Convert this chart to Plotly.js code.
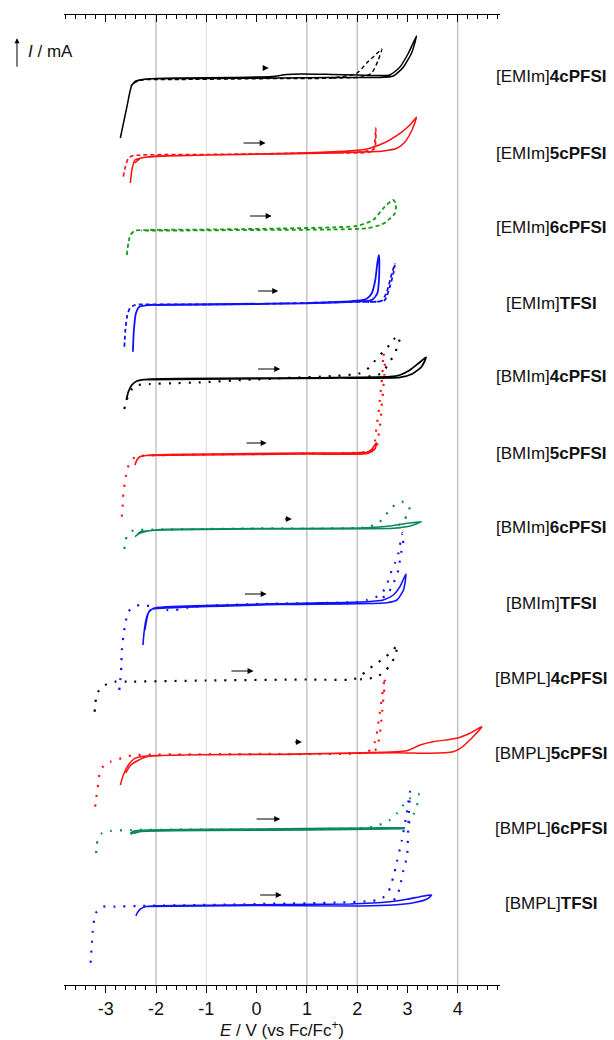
<!DOCTYPE html>
<html>
<head>
<meta charset="utf-8">
<script src="https://cdn.plot.ly/plotly-3.0.1.min.js"></script>
<style>html,body{margin:0;padding:0;background:#fff;}#chart{width:614px;height:1040px;}</style>
</head>
<body>
<div id="chart"></div>
<script>
// ---- data: potential E (V vs Fc/Fc+) and relative current (arbitrary units) ----
const sampleLabels = ["[EMIm]<b>4cPFSI</b>","[EMIm]<b>5cPFSI</b>","[EMIm]<b>6cPFSI</b>","[EMIm]<b>TFSI</b>",
  "[BMIm]<b>4cPFSI</b>","[BMIm]<b>5cPFSI</b>","[BMIm]<b>6cPFSI</b>","[BMIm]<b>TFSI</b>",
  "[BMPL]<b>4cPFSI</b>","[BMPL]<b>5cPFSI</b>","[BMPL]<b>6cPFSI</b>","[BMPL]<b>TFSI</b>"];
const stackOffsets = [907, 830, 756, 680, 607, 530, 456, 380, 305, 230, 155, 80];
const gridE = [-2, -1, 1, 2, 4];
const tickValues = [-3, -2, -1, 0, 1, 2, 3, 4];

const emim4Solid = [[-2.71,-60],[-2.58,-29],[-2.48,-7],[-2.38,-3],[-2.18,-1],[-1.5,0],[-0.5,0.5],[0.3,1.5],[0.6,3.5],[0.9,4],[1.5,3.5],[2.0,3],[2.5,2.5],[2.65,3],[2.85,11],[3.02,25],[3.18,42],[3.09,26],[2.92,11],[2.72,2],[2.4,0.5],[1.5,0.5],[0.5,0],[-1,-0.5],[-2.2,-1],[-2.4,-3],[-2.5,-8]];
const emim4Dash = [[-2.45,-5],[-2.3,-2],[-1.5,-1.5],[-0.5,-1],[0.5,-0.5],[1.5,0],[1.99,4.7],[2.19,15],[2.36,23],[2.49,29],[2.42,18],[2.29,5],[2.1,1],[1.5,0]];
const emim5Solid = [[-2.51,-28],[-2.48,-15],[-2.42,-5],[-2.25,-2.5],[-2.0,-1],[-1,0],[0,1],[1,2.3],[1.8,4],[2.2,6],[2.52,11.7],[2.85,21.7],[3.05,30],[3.18,37.7],[3.09,25],[2.95,13],[2.79,6.7],[2.52,4],[1.53,2],[0.5,1],[-1,0],[-2.0,-1.5],[-2.3,-3],[-2.42,-8]];
const emim5Dash = [[-2.65,-21.7],[-2.61,-11.7],[-2.55,-3.3],[-2.48,-1],[-2.32,0],[-1,0.5],[0.5,1.5],[1.5,2.5],[2.30,4],[2.37,27],[2.34,6],[2.0,3]];
const emim6Dash = [[-2.58,-26],[-2.55,-14],[-2.51,-6],[-2.42,-1.7],[-2.12,-1],[-1,-0.5],[0.5,0.5],[1.53,1.7],[1.99,3],[2.32,9],[2.52,20.7],[2.71,29],[2.77,25.7],[2.75,15.7],[2.62,9],[2.59,7.3],[2.46,4],[2.19,0.7],[1.5,-0.5],[0,-1],[-1.5,-1.5],[-2.3,-1.5]];
const emimTSolid = [[-2.46,-46.7],[-2.44,-25],[-2.40,-8.3],[-2.33,-1.7],[-2.12,0],[0.86,1.7],[1.99,4.3],[2.19,6.3],[2.29,11.7],[2.36,25],[2.40,41.7],[2.43,50],[2.44,35],[2.40,11.7],[2.29,5],[1.5,2.5],[0,1],[-2.0,0]];
const emimTDash = [[-2.63,-41.7],[-2.61,-25],[-2.57,-10],[-2.52,-3.3],[-2.42,0],[-2.35,0.5],[-1,0.5],[0.5,1.5],[1.8,3],[2.39,3.3],[2.55,5],[2.65,18.3],[2.72,31.7],[2.75,41],[2.69,31.7],[2.59,13.3],[2.49,4.3],[2.2,3]];
const bmim4Solid = [[-2.59,-22],[-2.55,-13.7],[-2.48,-7],[-2.38,-3],[-2.18,-1.3],[0.86,0],[2.65,1.3],[2.85,3],[3.05,8],[3.22,14.7],[3.37,20.7],[3.28,11.3],[3.09,4],[2.85,0.7],[1.5,0],[-2.2,-1.5]];
const bmim4Dot = [[-2.63,-31],[-2.59,-22],[-2.55,-18.7],[-2.45,-8.7],[-2.28,-6.3],[-2.12,-6],[-1.69,-5.3],[-1.12,-4.3],[-0.26,-2],[0.6,0],[1.53,2],[2.06,4.7],[2.26,11.3],[2.39,19.7],[2.52,26.3],[2.64,33],[2.75,39.7],[2.85,41.3],[2.79,29.7],[2.71,21.3],[2.60,12.3],[2.46,4],[2.19,1.3]];
const bmim5Solid = [[-2.42,-10],[-2.38,-5],[-2.32,-1.7],[-2.12,0],[1.99,2.3],[2.19,2.7],[2.29,5.7],[2.38,12.3],[2.36,6.7],[2.22,1.7],[1.0,1],[-2.2,-0.5]];
const bmim5Dot = [[-2.68,-61.7],[-2.66,-48.3],[-2.65,-38.3],[-2.61,-25],[-2.58,-15],[-2.51,-6.7],[-2.42,-2.3],[-2.25,-0.7],[-1,0.5],[1,1.5],[2.32,5],[2.36,18],[2.39,30],[2.42,40],[2.44,50],[2.46,60],[2.48,70],[2.50,80],[2.51,90],[2.52,102],[2.55,92],[2.54,80],[2.52,68],[2.50,55],[2.48,45],[2.47,35],[2.44,25],[2.41,14],[2.37,5],[2.2,3]];
const bmim6Solid = [[-2.42,-7.7],[-2.32,-4.3],[-2.12,-1.7],[-1.79,-0.3],[2.19,1.3],[2.65,3],[2.99,5.7],[3.28,7.3],[3.05,3],[2.72,0.7],[0,0],[-2.3,-2.5],[-2.38,-6]];
const bmim6Dot = [[-2.63,-20],[-2.61,-12.7],[-2.57,-6],[-2.48,-2],[-2.32,-1],[0,0.5],[2.19,1.7],[2.42,5.7],[2.55,13],[2.69,21.7],[2.89,27.3],[3.04,21.7],[2.99,14],[2.92,7.3],[2.79,3]];
const bmimTSolid = [[-2.26,-40],[-2.24,-28.3],[-2.20,-15],[-2.15,-7.7],[-2.05,-3.3],[-1.79,-1.7],[0.86,1.7],[2.19,3.3],[2.52,5],[2.72,10],[2.85,18.3],[2.97,31],[2.92,15],[2.79,5],[2.59,2.3],[0.5,0.5],[-1.8,-3],[-2.12,-5],[-2.22,-25]];
const bmimTDot = [[-2.73,-85],[-2.71,-75],[-2.69,-61.7],[-2.68,-45],[-2.65,-31.7],[-2.61,-18.3],[-2.55,-6.7],[-2.45,-1.7],[-2.32,0],[-2.12,-1],[-1.79,-5],[-1.62,-5],[-1.26,-1.7],[0,1],[1.99,3],[2.19,5],[2.46,10],[2.59,20],[2.65,30],[2.75,41.7],[2.82,51.7],[2.85,60],[2.89,70],[2.90,72],[2.92,65],[2.89,56.7],[2.85,45],[2.82,35],[2.72,21.7],[2.59,10],[2.39,5]];
const bmpl4Dot = [[-3.22,-31.7],[-3.21,-23.3],[-3.19,-18.3],[-3.15,-11.7],[-3.01,-5],[-2.81,-1.7],[-2.58,-1.7],[-1,-0.5],[1,0.5],[1.92,0.7],[2.09,5],[2.22,10.7],[2.39,16.7],[2.55,22.7],[2.69,28.3],[2.80,35],[2.75,23.3],[2.65,15],[2.55,8.3],[2.36,2.7],[2.06,0.7]];
const bmpl5Solid = [[-2.71,-30],[-2.65,-20],[-2.55,-10],[-2.42,-3.3],[-2.18,-1],[0.73,1],[2.06,2.3],[2.99,4.3],[3.25,10],[3.51,13.3],[3.98,16.7],[4.24,21.7],[4.48,28.3],[4.24,15],[4.05,6.7],[3.91,3.3],[3.45,1.7],[2.79,2.3],[0.5,0.5],[-2.2,-2],[-2.5,-10],[-2.6,-18]];
const bmpl5Dot = [[-3.21,-51.7],[-3.19,-43.3],[-3.16,-33.3],[-3.15,-26.7],[-3.11,-16.7],[-3.01,-8.3],[-2.91,-6.7],[-2.78,-5],[-2.61,-1.7],[-2.38,0],[0,1],[2.20,3],[2.30,8],[2.36,14],[2.40,24],[2.43,35],[2.46,46],[2.49,57],[2.52,68],[2.55,78],[2.54,66],[2.52,56],[2.50,45],[2.48,35],[2.46,25],[2.43,15],[2.39,7],[2.33,3]];
const bmpl6Solid = [[-2.51,-4],[-2.45,-1.7],[-2.32,-0.7],[0,0.5],[2.95,1.7],[1.0,0.5],[-2.3,-1],[-2.45,-3]];
const bmpl6Dot = [[-3.19,-23.3],[-3.18,-15],[-3.15,-8.3],[-3.08,-3.3],[-2.91,-1],[-2.5,0],[0,0.5],[2.06,1.7],[2.32,3.3],[2.52,6.7],[2.65,10],[2.79,16.7],[2.92,25],[3.05,31.7],[3.22,36],[3.2,26.7],[3.13,16.7],[3.05,8.3],[2.95,2.7]];
const bmplTSolid = [[-2.40,-11],[-2.37,-7.7],[-2.32,-4.3],[-2.22,-1.7],[-1.98,-0.7],[1.86,1],[2.65,3.3],[2.99,5.7],[3.25,8.3],[3.48,10],[3.38,5.7],[3.12,2.3],[2.72,0],[2.06,-1],[0,-0.5],[-2.2,-1.5]];
const bmplTDot = [[-3.30,-57.7],[-3.28,-41.7],[-3.26,-26.7],[-3.23,-15],[-3.18,-6.7],[-3.05,-1.7],[-2.81,-1.7],[-2.38,-1],[0,1],[2.46,5.7],[2.62,13.3],[2.72,28.3],[2.79,43.3],[2.89,65],[2.99,93.3],[3.05,113.3],[3.02,85],[2.99,48.3],[2.92,35],[2.85,18.3],[2.79,8.3],[2.65,1.7]];

// scan-direction arrows: [E tail, E head, current]
const scanArrows = [[0.10,0.24,10],[-0.29,0.18,12],[-0.16,0.30,13],[0.00,0.43,14],[0.00,0.47,9],[-0.23,0.20,12],
  [0.53,0.70,10],[-0.26,0.20,11],[-0.53,-0.06,9],[0.73,0.90,13],[-0.03,0.47,11],[0.04,0.50,10]];

// ---- styling ----
const BLACK = '#000000', RED = '#ff1010', GREEN = '#1a9a1a', TEAL = '#0a8a5c', BLUE = '#1010ff';
const DOT = '2px,8px', DASH = '4px,3px';
const curves = [
  [emim4Solid, 0, BLACK, 'solid', 1.5], [emim4Dash, 0, BLACK, DASH, 1.4],
  [emim5Solid, 1, RED, 'solid', 1.5], [emim5Dash, 1, RED, DASH, 1.6],
  [emim6Dash, 2, GREEN, DASH, 1.8],
  [emimTSolid, 3, BLUE, 'solid', 1.8], [emimTDash, 3, BLUE, DASH, 1.8],
  [bmim4Solid, 4, BLACK, 'solid', 1.8], [bmim4Dot, 4, BLACK, DOT, 2.2],
  [bmim5Solid, 5, RED, 'solid', 1.6], [bmim5Dot, 5, RED, DOT, 2.2],
  [bmim6Solid, 6, TEAL, 'solid', 1.5], [bmim6Dot, 6, TEAL, DOT, 2.2],
  [bmimTSolid, 7, BLUE, 'solid', 1.6], [bmimTDot, 7, BLUE, DOT, 2.2],
  [bmpl4Dot, 8, BLACK, DOT, 2.2],
  [bmpl5Solid, 9, RED, 'solid', 1.5], [bmpl5Dot, 9, RED, DOT, 2.2],
  [bmpl6Solid, 10, TEAL, 'solid', 2.6], [bmpl6Dot, 10, TEAL, DOT, 2.2],
  [bmplTSolid, 11, BLUE, 'solid', 1.6], [bmplTDot, 11, BLUE, DOT, 2.2]
];

const traces = curves.map(([pts, idx, color, dash, w]) => ({
  type: 'scatter', mode: 'lines',
  x: pts.map(p => p[0]),
  y: pts.map(p => p[1] + stackOffsets[idx]),
  line: {color: color, width: w, dash: dash, shape: 'spline', smoothing: 0.6},
  hoverinfo: 'skip', showlegend: false
}));

const FONT = 'Liberation Sans, Arial, sans-serif';
const xRange = [-3.83, 4.84];
const annotations = [];
sampleLabels.forEach((t, i) => annotations.push({
  xref: 'paper', yref: 'y', x: 1.117, y: stackOffsets[i] + 2, text: t, showarrow: false,
  xanchor: 'center', yanchor: 'middle', font: {family: FONT, size: 17, color: '#111'}
}));
scanArrows.forEach((a, i) => annotations.push({
  xref: 'x', yref: 'y', axref: 'x', ayref: 'y',
  x: a[1], y: stackOffsets[i] + a[2], ax: a[0], ay: stackOffsets[i] + a[2],
  text: '', showarrow: true, arrowhead: 2, arrowsize: 1.2, arrowwidth: 1, arrowcolor: '#000'
}));
annotations.push({xref: 'paper', yref: 'paper', x: -0.1078, y: 0.976, ax: 0, ay: 30,
  text: '', showarrow: true, arrowhead: 2, arrowsize: 1, arrowwidth: 1, arrowcolor: '#000'});
annotations.push({xref: 'paper', yref: 'paper', x: -0.0872, y: 0.9619, xanchor: 'left', yanchor: 'middle',
  text: '<i>I</i> / mA', showarrow: false, font: {family: FONT, size: 17, color: '#111'}});

const shapes = gridE.map(e => ({
  type: 'line', xref: 'x', yref: 'paper', x0: e, x1: e, y0: 0, y1: 1, layer: 'below',
  line: {color: e === -1 ? '#d9d9d9' : '#a8a8a8', width: 1}
}));

const layout = {
  width: 614, height: 1040,
  margin: {l: 64, r: 114, t: 15, b: 55},
  paper_bgcolor: '#fff', plot_bgcolor: '#fff',
  showlegend: false,
  font: {family: FONT, color: '#111'},
  xaxis: {
    range: xRange, showgrid: false, zeroline: false,
    showline: true, linecolor: '#000', linewidth: 1,
    tickmode: 'array', tickvals: tickValues, ticktext: tickValues.map(String),
    ticks: 'outside', ticklen: 7, tickwidth: 1, tickcolor: '#000',
    minor: {dtick: 0.2, tick0: 0, ticks: 'outside', ticklen: 4, tickwidth: 1, tickcolor: '#000', showgrid: false},
    tickfont: {family: FONT, size: 18, color: '#111'},
    title: {text: '<i>E</i> / V (vs Fc/Fc<sup>+</sup>)', font: {family: FONT, size: 17, color: '#111'}, standoff: 10}
  },
  xaxis2: {
    overlaying: 'x', side: 'top', range: xRange, matches: undefined,
    showgrid: false, zeroline: false, showline: true, linecolor: '#000', linewidth: 1,
    tickmode: 'array', tickvals: tickValues, showticklabels: false,
    ticks: 'inside', ticklen: 7, tickwidth: 1, tickcolor: '#000',
    minor: {dtick: 0.2, tick0: 0, ticks: 'inside', ticklen: 4, tickwidth: 1, tickcolor: '#000', showgrid: false}
  },
  yaxis: {range: [0, 970], visible: false, showgrid: false, zeroline: false},
  annotations: annotations,
  shapes: shapes
};

// dummy invisible trace to activate the top axis
traces.push({type: 'scatter', mode: 'lines', x: xRange, y: [0, 0], xaxis: 'x2', yaxis: 'y',
  line: {color: 'rgba(0,0,0,0)', width: 0}, hoverinfo: 'skip', showlegend: false});

Plotly.newPlot('chart', traces, layout, {staticPlot: true, displayModeBar: false});
</script>
</body>
</html>
